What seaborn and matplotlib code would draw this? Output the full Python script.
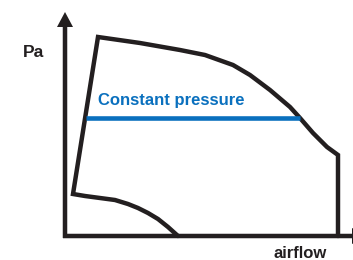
#!/usr/bin/env python3

##########################################################################
#  Fan operating envelope with a constant pressure line
##########################################################################

import matplotlib
matplotlib.use('Agg')
import seaborn as sns
import matplotlib.pyplot as plt

## fan envelope outline: bottom curve -> left edge -> top curve -> max flow
envelope_airflow  = [178, 168, 158, 148, 138, 128, 115, 100, 85, 73, 98, 140,
                     180, 205, 233, 250, 270, 290, 300, 313, 327, 338, 338]
envelope_pressure = [24, 33, 41, 47, 52, 56, 60, 62, 64, 66, 223, 217,
                     210, 205, 195, 185, 170, 153, 142, 127, 113, 105, 24]

## constant pressure line
const_airflow  = [86, 300]
const_pressure = [142, 142]

line_label  = 'Constant pressure'
x_name      = 'airflow'
y_name      = 'Pa'

dark = '#231f20'
blue = '#0a70be'

################################################
def main():
  sns.set_style('white')
  plt.rcParams['font.family'] = ['Liberation Sans', 'DejaVu Sans']

  fig = plt.figure(figsize=(3.53, 2.60), dpi=100)
  ax  = fig.add_axes([0, 0, 1, 1])
  ax.set_xlim(0, 353)
  ax.set_ylim(0, 260)
  ax.axis('off')

  ## axes with arrow heads
  ax.arrow(65, 22, 0, 226, width=4.5, head_width=16, head_length=15,
           length_includes_head=True, color=dark, lw=0)
  ax.arrow(63, 24, 304, 0, width=4.5, head_width=16, head_length=15,
           length_includes_head=True, color=dark, lw=0)

  ## envelope and constant pressure line (no aggregation, keep drawing order)
  sns.lineplot(x=envelope_airflow, y=envelope_pressure, sort=False,
               estimator=None, errorbar=None, ax=ax,
               color=dark, lw=3.2, solid_joinstyle='miter')
  sns.lineplot(x=const_airflow, y=const_pressure, sort=False,
               estimator=None, errorbar=None, ax=ax,
               color=blue, lw=3.3, solid_capstyle='butt')

  ## labels
  ax.text(98, 155, line_label, color=blue, fontsize=12, fontweight='bold',
          ha='left', va='baseline')
  ax.text(23, 203, y_name, color=dark, fontsize=12.5, fontweight='bold',
          ha='left', va='baseline')
  ax.text(273, 1.5, x_name, color=dark, fontsize=12, fontweight='bold',
          ha='left', va='baseline')

  plt.savefig('out.png', dpi=100)


######################################################################
if __name__ == '__main__':
  main()
